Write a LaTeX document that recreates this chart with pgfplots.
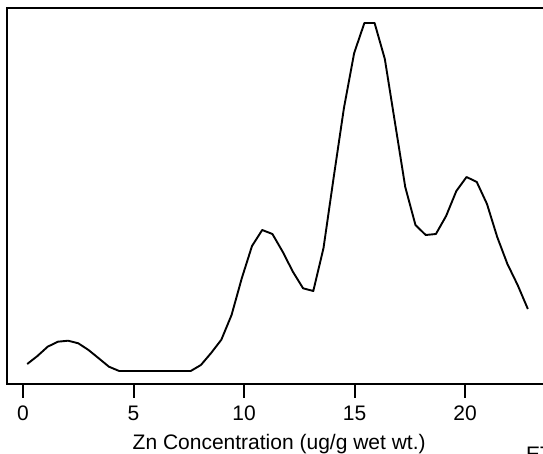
\documentclass[border=0pt]{standalone}
\usepackage{fontspec}
\setmainfont{Liberation Sans}
\usepackage{pgfplots}
\pgfplotsset{compat=1.18}
\begin{document}
\begin{tikzpicture}
\begin{axis}[
  at={(7.2pt,69pt)}, anchor=south west,
  scale only axis,
  width=540.7pt, height=376pt,
  xmin=-0.716, xmax=23.75,
  ymin=-13, ymax=363,
  axis line style={line width=2pt},
  xtick={0,5,10,15,20},
  ytick=\empty,
  xtick pos=bottom,
  tick align=outside,
  major tick length=13.5pt,
  every tick/.style={black, line width=2pt},
  /pgf/number format/assume math mode=true,
  tick label style={font=\fontsize{21}{25}\selectfont},
  xticklabel style={anchor=base, inner sep=0pt, yshift=-23pt},
  typeset ticklabels with strut=false,
  xlabel={Zn Concentration (ug/g wet wt.)},
  xlabel style={at={(axis description cs:0.503,0)}, anchor=base, inner sep=0pt, yshift=-65pt, font=\fontsize{21}{25}\selectfont},
  clip=false,
]
\addplot[black, line width=1.9pt, line join=round] coordinates {
(0.190,7) (0.652,15) (1.115,24.3) (1.577,29.3) (2.039,30.3) (2.502,27.7)
(2.964,21) (3.426,12.7) (3.888,4.3) (4.351,0) (4.813,0) (5.275,0)
(5.738,0) (6.200,0) (6.662,0) (7.125,0) (7.587,0) (8.049,6)
(8.511,18) (8.974,31.3) (9.436,56) (9.898,92.7) (10.361,125) (10.823,141)
(11.285,137) (11.748,119.3) (12.210,99.3) (12.672,82.7) (13.134,80) (13.597,123)
(14.059,194) (14.521,263) (14.984,318) (15.446,348) (15.908,348) (16.371,312)
(16.833,248) (17.295,184) (17.757,146) (18.220,136) (18.682,137) (19.144,155)
(19.607,180) (20.069,194) (20.531,189) (20.994,167) (21.456,134) (21.918,107)
(22.380,86) (22.843,62)
};
\end{axis}
\node[anchor=north west, inner sep=0pt, font=\fontsize{21}{25}\selectfont] at (526pt,6pt) {ET};
\pgfresetboundingbox
\path[use as bounding box] (0pt,0pt) rectangle (543pt,453pt);
\end{tikzpicture}
\end{document}
